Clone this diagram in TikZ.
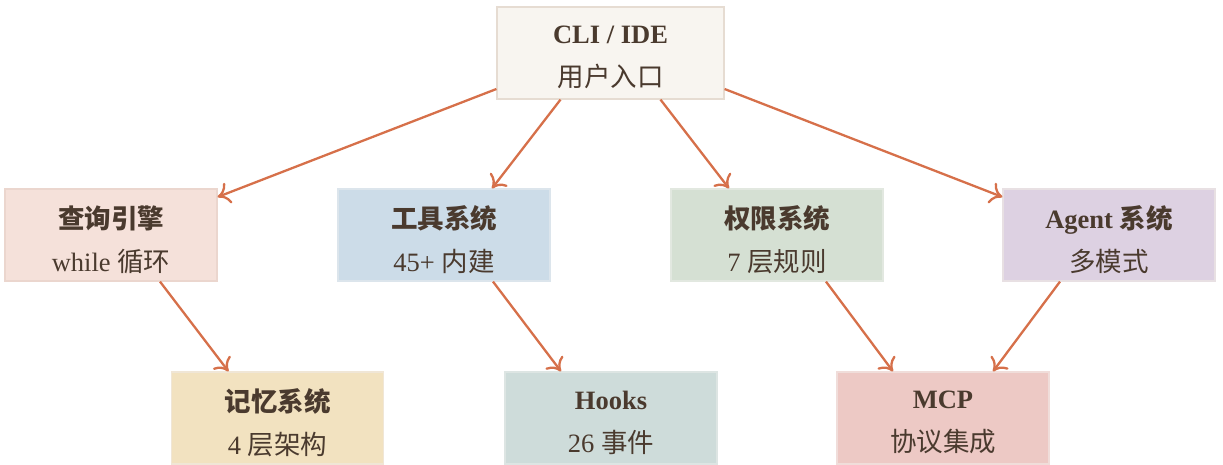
\documentclass[tikz,border=0pt]{standalone}
\usepackage{fontspec}
\setmainfont{Liberation Serif}
\newfontfamily\cjk{Noto Sans CJK SC}
\usetikzlibrary{arrows.meta,calc}
\definecolor{txt}{HTML}{4A3A2E}
\definecolor{arr}{HTML}{D6704A}
\definecolor{cCLI}{HTML}{F8F5F0}\definecolor{bCLI}{HTML}{E6DCD2}
\definecolor{cQ}{HTML}{F5E1DA}\definecolor{bQ}{HTML}{EBD6CE}
\definecolor{cT}{HTML}{CCDCE8}\definecolor{bT}{HTML}{DCE5EC}
\definecolor{cP}{HTML}{D5E0D3}\definecolor{bP}{HTML}{E2E8E0}
\definecolor{cA}{HTML}{DDD1E2}\definecolor{bA}{HTML}{E8E0E3}
\definecolor{cM}{HTML}{F2E2C0}\definecolor{bM}{HTML}{F0E6D6}
\definecolor{cH}{HTML}{CEDCDA}\definecolor{bH}{HTML}{DDE5E3}
\definecolor{cC}{HTML}{EDC9C5}\definecolor{bC}{HTML}{F0DDDA}
\tikzset{
  box/.style={draw=#1, line width=1.2pt, minimum width=212pt, minimum height=92pt,
    inner sep=0pt},
  lbl/.style={align=center, text=txt, inner sep=0pt,
    font=\fontsize{26.5}{43}\selectfont},
  conn/.style={draw=arr, line width=2.3pt,
    -{Computer Modern Rightarrow[length=12pt,width=22pt,line width=2.3pt]}}
}
\newcommand{\hd}[1]{\textbf{#1}}
\newcommand{\boxtext}[2]{\node[lbl] (#1-t) at ([yshift=-4.5pt]#1.center) {#2};}
\begin{document}
\begin{tikzpicture}[x=1pt,y=1pt]
\useasboundingbox (0,0) rectangle (1223,-464);
\node[box=bCLI, fill=cCLI, minimum width=227pt] (cli) at (610.5,-53) {};
\node[box=bQ, fill=cQ] (q) at (111,-235) {};
\node[box=bT, fill=cT] (t) at (444,-235) {};
\node[box=bP, fill=cP] (p) at (777,-235) {};
\node[box=bA, fill=cA] (a) at (1109,-235) {};
\node[box=bM, fill=cM] (m) at (277.5,-418) {};
\node[box=bH, fill=cH] (h) at (611,-418) {};
\node[box=bC, fill=cC] (c) at (943,-418) {};
\boxtext{cli}{\hd{CLI / IDE}\\{\cjk 用户入口}}
\boxtext{q}{{\cjk\bfseries 查询引擎}\\while {\cjk 循环}}
\boxtext{t}{{\cjk\bfseries 工具系统}\\45+ {\cjk 内建}}
\boxtext{p}{{\cjk\bfseries 权限系统}\\7 {\cjk 层规则}}
\boxtext{a}{\hd{Agent} {\cjk\bfseries 系统}\\{\cjk 多模式}}
\boxtext{m}{{\cjk\bfseries 记忆系统}\\4 {\cjk 层架构}}
\boxtext{h}{\hd{Hooks}\\26 {\cjk 事件}}
\boxtext{c}{\hd{MCP}\\{\cjk 协议集成}}
\draw[conn] ($(cli.west)+(0,-36)$) -- ($(q.east)+(0,38)$);
\draw[conn] ($(cli.south)+(-50,0)$) -- ($(t.north)+(48,0)$);
\draw[conn] ($(cli.south)+(50,0)$) -- ($(p.north)+(-48,0)$);
\draw[conn] ($(cli.east)+(0,-36)$) -- ($(a.west)+(0,38)$);
\draw[conn] ($(q.south)+(49,0)$) -- ($(m.north)+(-49,0)$);
\draw[conn] ($(t.south)+(49,0)$) -- ($(h.north)+(-50,0)$);
\draw[conn] ($(p.south)+(49,0)$) -- ($(c.north)+(-50,0)$);
\draw[conn] ($(a.south)+(-49,0)$) -- ($(c.north)+(50,0)$);
\end{tikzpicture}
\end{document}
